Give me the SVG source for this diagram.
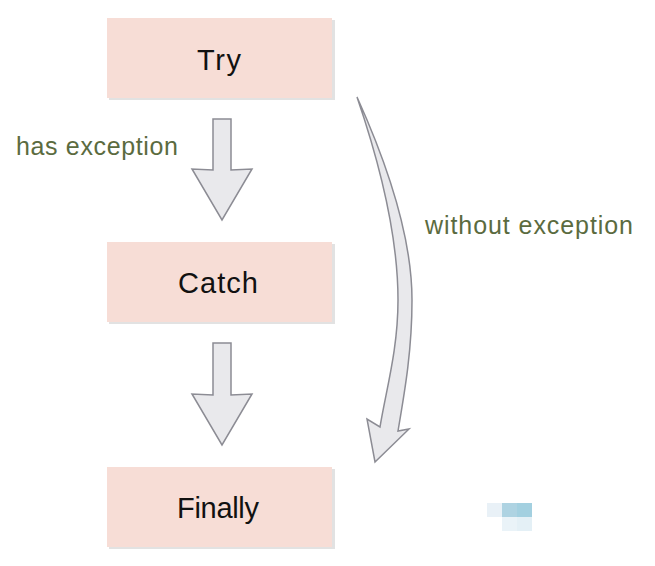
<svg xmlns="http://www.w3.org/2000/svg" width="655" height="566" viewBox="0 0 655 566">
<defs>
<style>
.box{fill:#f7ddd6}
.shadow{fill:#e2e2e2}
.lbl{font-family:"Liberation Sans",Arial,sans-serif;font-size:29px;fill:#111}
.note{font-family:"Liberation Sans",Arial,sans-serif;font-size:25px;fill:#5b6b3f}
.arr{fill:#e9e9ec;stroke:#8c8c94;stroke-width:1.5;stroke-linejoin:miter}
</style>
</defs>
<rect width="655" height="566" fill="#fff"/>
<g id="try">
<rect class="shadow" x="109" y="20" width="226" height="80"/>
<rect class="box" x="107" y="18" width="225" height="80"/>
<text class="lbl" x="197" y="70" textLength="44">Try</text>
</g>
<g id="catch">
<rect class="shadow" x="109" y="244" width="226" height="80"/>
<rect class="box" x="107" y="242" width="225" height="80"/>
<text class="lbl" x="178" y="293" textLength="80">Catch</text>
</g>
<g id="finally">
<rect class="shadow" x="109" y="469" width="226" height="80"/>
<rect class="box" x="107" y="467" width="225" height="80"/>
<text class="lbl" x="177" y="518" textLength="82">Finally</text>
</g>
<g id="connectors">
<path class="arr" d="M213,119 H231 V170 L252,169 L222,220 L192,169 L213,170 Z"/>
<path class="arr" d="M213,343 H231 V395 L252,394 L222,445 L192,394 L213,395 Z"/>
<path class="arr" d="M357,97 C390,170 412,240 412,300 C412,350 405,390 398,431 L409,429 L375,462 L367,419 L380,427 C386,390 398,350 398,300 C398,240 382,170 357,97 Z"/>
<text class="note" x="16" y="155" textLength="162">has exception</text>
<text class="note" x="425" y="234" textLength="208">without exception</text>
</g>
<g id="mark">
<rect x="487" y="503" width="15" height="14" fill="#e9f1f7"/>
<rect x="502" y="503" width="15" height="14" fill="#aed3e2"/>
<rect x="517" y="503" width="15" height="14" fill="#a3d0e0"/>
<rect x="502" y="517" width="15" height="14" fill="#eaf3f8"/>
<rect x="517" y="517" width="15" height="14" fill="#e4f0f6"/>
</g>
</svg>
